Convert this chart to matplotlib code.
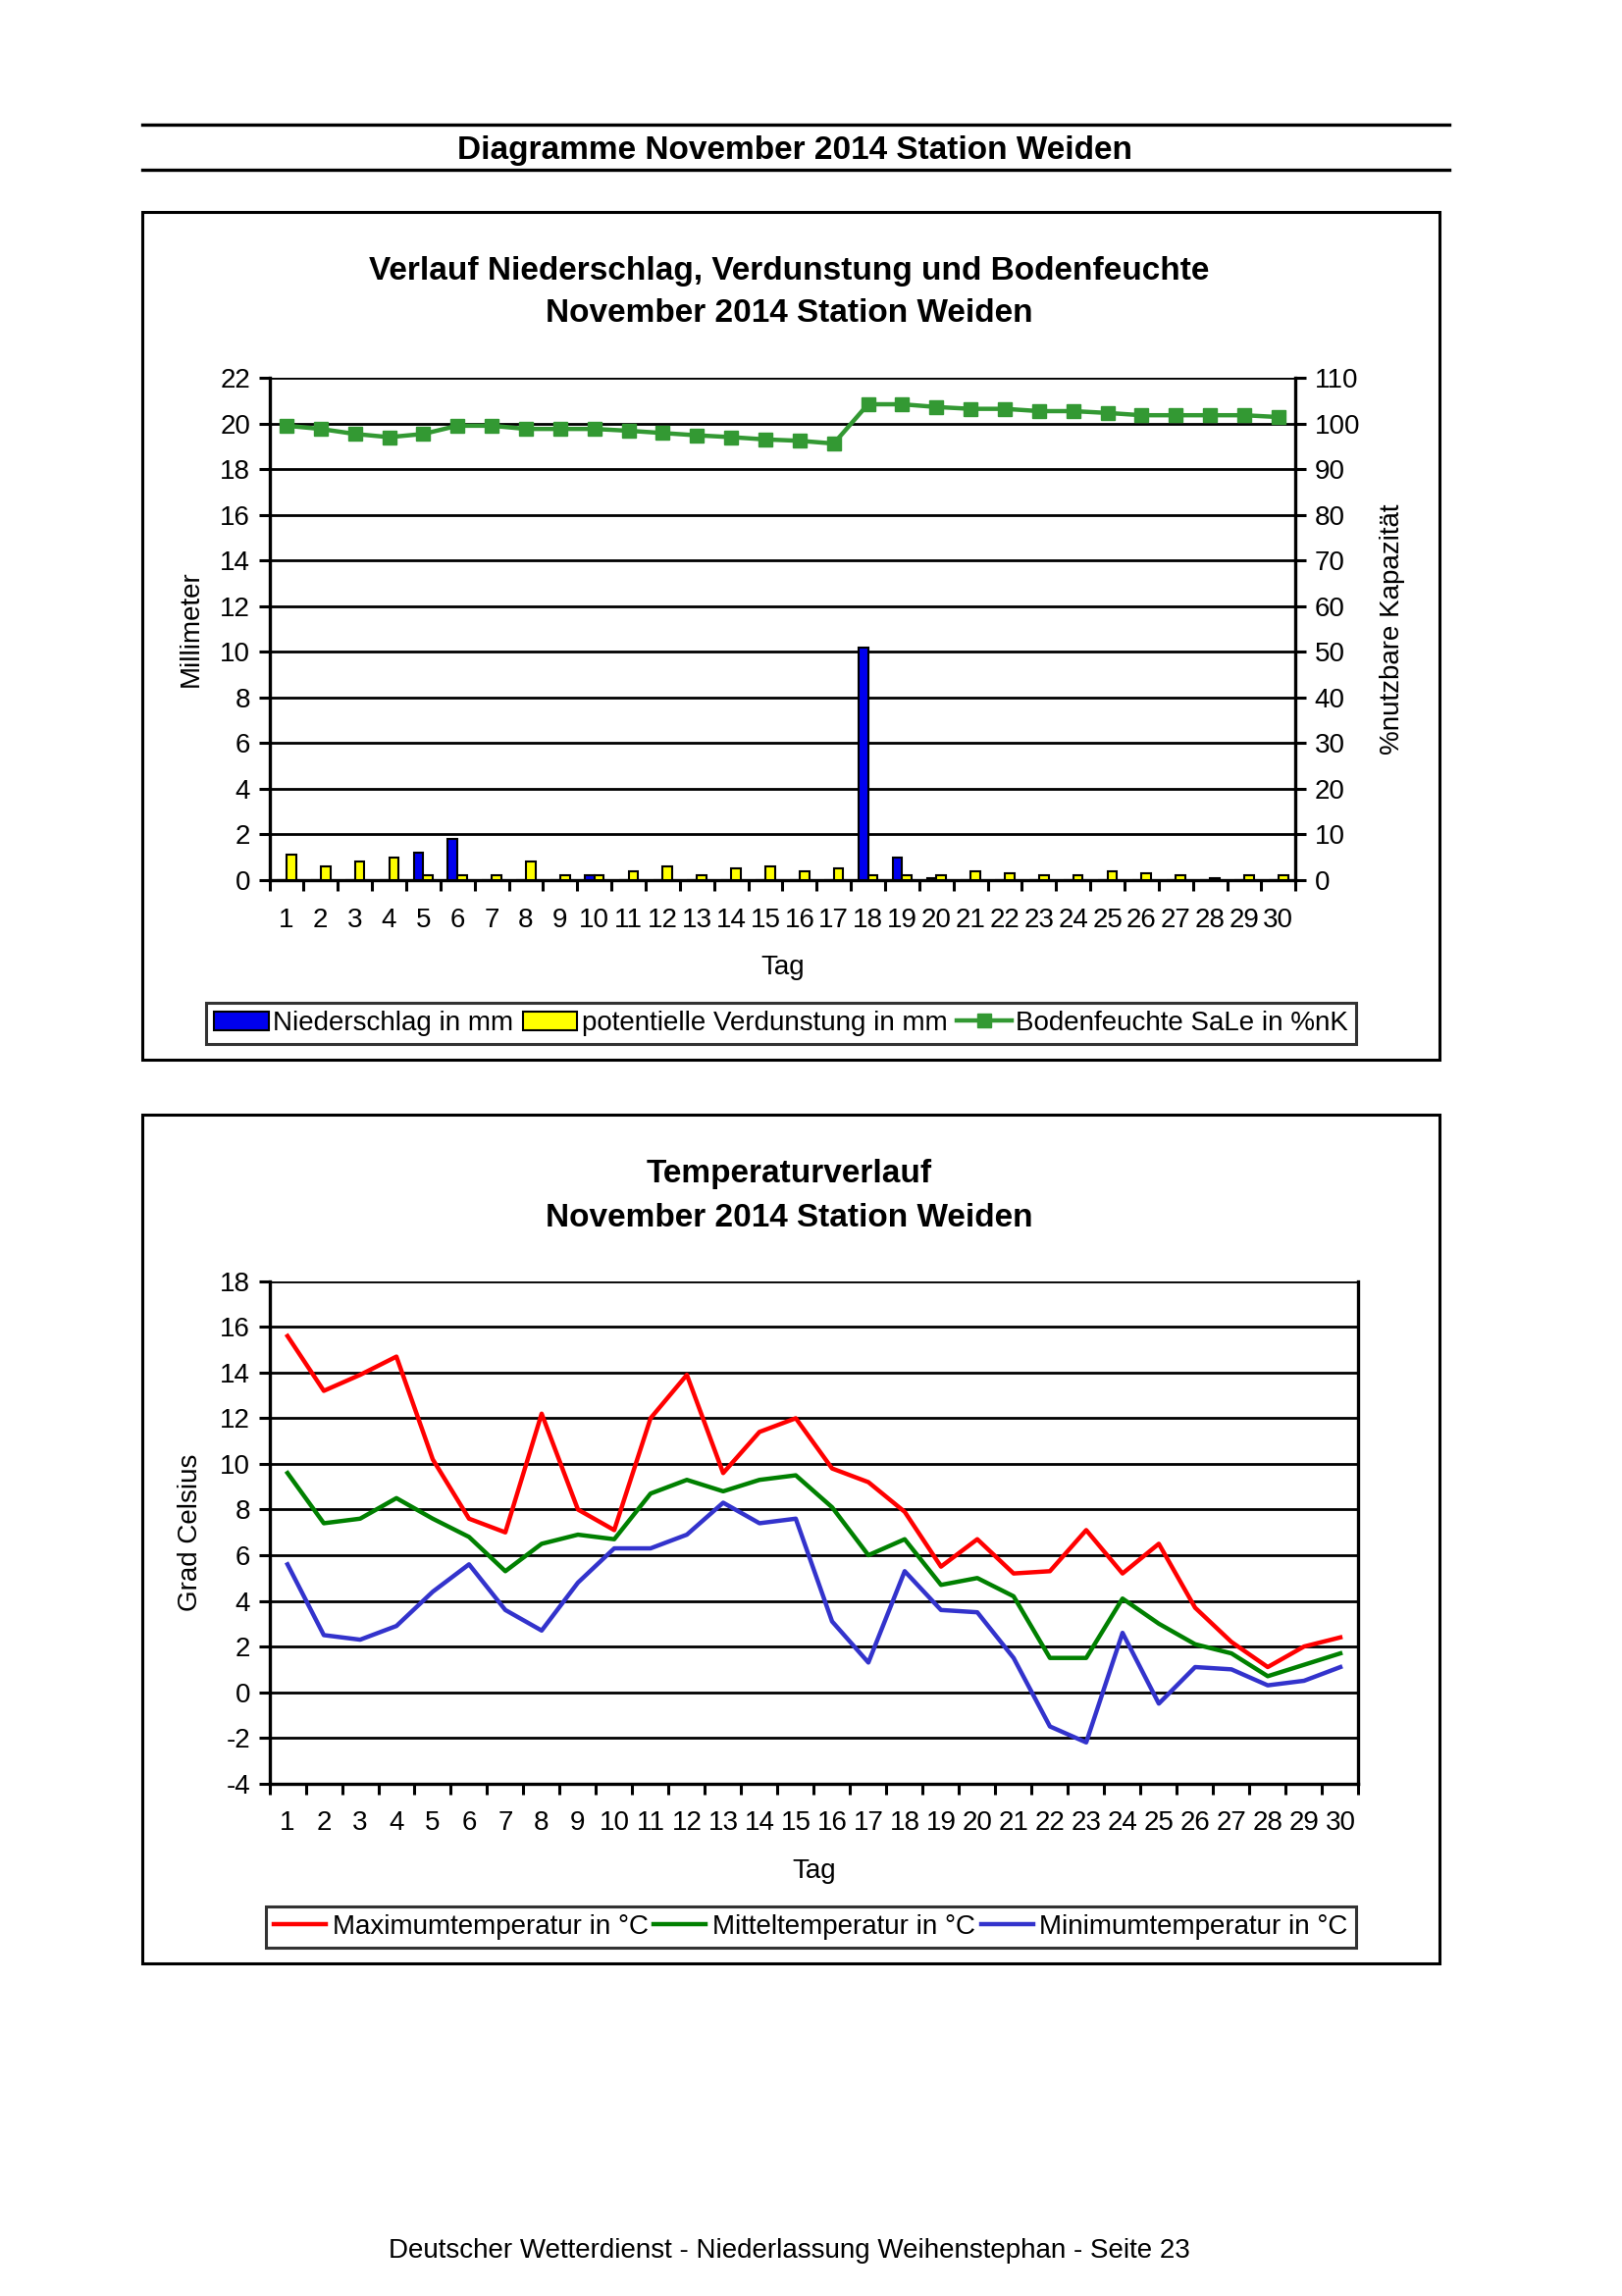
import matplotlib
matplotlib.use("Agg")
import matplotlib.pyplot as plt
import matplotlib.patches as mpatches
from matplotlib.lines import Line2D
import numpy as np

plt.rcParams['font.family'] = ['Liberation Sans', 'DejaVu Sans']

days = list(range(1, 31))
niederschlag = [0, 0, 0, 0, 1.2, 1.8, 0, 0, 0, 0.2, 0, 0, 0, 0, 0, 0, 0, 10.2, 1.0, 0.1,
                0, 0, 0, 0, 0, 0, 0, 0, 0, 0]
verdunstung = [1.1, 0.6, 0.8, 1.0, 0.2, 0.2, 0.2, 0.8, 0.2, 0.2, 0.4, 0.6, 0.2, 0.5, 0.6, 0.4, 0.5, 0.2, 0.2, 0.2,
               0.4, 0.3, 0.2, 0.2, 0.4, 0.3, 0.2, 0.1, 0.2, 0.2]
bodenfeuchte = [99.5, 98.8, 97.7, 97.0, 97.7, 99.5, 99.5, 98.8, 98.8, 98.8, 98.4, 97.9, 97.4, 97.0, 96.5, 96.2, 95.6,
                104.2, 104.2, 103.6, 103.2, 103.2, 102.7, 102.7, 102.3, 101.8, 101.8, 101.8, 101.8, 101.4]

tmax = [15.6, 13.2, 13.9, 14.7, 10.2, 7.6, 7.0, 12.2, 8.0, 7.1, 12.0, 13.9, 9.6, 11.4, 12.0, 9.8, 9.2, 7.9, 5.5, 6.7,
        5.2, 5.3, 7.1, 5.2, 6.5, 3.7, 2.2, 1.1, 2.0, 2.4]
tmit = [9.6, 7.4, 7.6, 8.5, 7.6, 6.8, 5.3, 6.5, 6.9, 6.7, 8.7, 9.3, 8.8, 9.3, 9.5, 8.1, 6.0, 6.7, 4.7, 5.0,
        4.2, 1.5, 1.5, 4.1, 3.0, 2.1, 1.7, 0.7, 1.2, 1.7]
tmin = [5.6, 2.5, 2.3, 2.9, 4.4, 5.6, 3.6, 2.7, 4.8, 6.3, 6.3, 6.9, 8.3, 7.4, 7.6, 3.1, 1.3, 5.3, 3.6, 3.5,
        1.5, -1.5, -2.2, 2.6, -0.5, 1.1, 1.0, 0.3, 0.5, 1.1]

W, H = 1108.0, 1568.0
def fx(x): return x / W
def fy(y): return 1 - y / H

fig = plt.figure(figsize=(16.53, 23.40), dpi=100)

title_fs = 24
tick_fs = 20

# Header
for yy in (85, 116):
    fig.add_artist(Line2D([fx(97), fx(990)], [fy(yy), fy(yy)], color='black', lw=2.4, transform=fig.transFigure))
fig.text(fx(543), fy(103), 'Diagramme November 2014 Station Weiden', ha='center', va='center',
         fontsize=title_fs, fontweight='bold')

# Boxes
for (x0, y0, x1, y1) in [(97, 145, 983, 724), (97, 761, 983, 1341)]:
    fig.add_artist(mpatches.Rectangle((fx(x0), fy(y1)), fx(x1) - fx(x0), fy(y0) - fy(y1), fill=False,
                                      edgecolor='black', lw=2.2, transform=fig.transFigure))

def style_x(ax):
    ax.set_xlim(0.5, 30.5)
    ax.set_xticks(days)
    ax.set_xticklabels([str(d) for d in days], fontsize=tick_fs)
    ax.set_xticks(np.arange(0.5, 31, 1), minor=True)
    ax.tick_params(axis='x', which='major', length=0, pad=20)
    ax.tick_params(axis='x', which='minor', length=8, width=2.2, direction='out')

# ---------- Chart 1 ----------
ax1 = fig.add_axes([fx(184), fy(601), fx(885) - fx(184), fy(258) - fy(601)])
x = np.array(days)
bw = 0.28
ax1.bar(x - bw / 2, niederschlag, width=bw, color='#0000EE', edgecolor='black', lw=1.5, zorder=3)
ax1.bar(x + bw / 2, verdunstung, width=bw, color='#FFFF00', edgecolor='black', lw=1.5, zorder=3)
ax1.set_ylim(0, 22)
ax1.set_yticks(range(0, 23, 2))
ax1.set_yticklabels([str(v) for v in range(0, 23, 2)], fontsize=tick_fs)
ax1.grid(axis='y', color='black', lw=2.0, zorder=0)
ax1.set_axisbelow(True)
style_x(ax1)
ax1.tick_params(axis='y', length=8, width=2.2, direction='out', pad=6)
for s in ['top', 'right']:
    ax1.spines[s].set_visible(False)
ax1.spines['left'].set_linewidth(2.4)
ax1.spines['bottom'].set_linewidth(2.4)
ax1.set_ylabel('Millimeter', fontsize=tick_fs, labelpad=12)
ax1.set_xlabel('Tag', fontsize=tick_fs, labelpad=16)

ax1b = ax1.twinx()
ax1b.plot(x, bodenfeuchte, color='#339933', lw=3.2, marker='s', markersize=10, zorder=5)
ax1b.set_ylim(0, 110)
ax1b.set_yticks(range(0, 111, 10))
ax1b.set_yticklabels([str(v) for v in range(0, 111, 10)], fontsize=tick_fs)
ax1b.tick_params(axis='y', length=8, width=2.2, direction='out', pad=6)
for s in ['top', 'left', 'bottom']:
    ax1b.spines[s].set_visible(False)
ax1b.spines['right'].set_linewidth(2.4)
ax1b.set_ylabel('%nutzbare Kapazität', fontsize=tick_fs, labelpad=14)

fig.text(fx(539), fy(185), 'Verlauf Niederschlag, Verdunstung und Bodenfeuchte', ha='center', va='center',
         fontsize=title_fs, fontweight='bold')
fig.text(fx(539), fy(214), 'November 2014 Station Weiden', ha='center', va='center',
         fontsize=title_fs, fontweight='bold')

h1 = [mpatches.Patch(facecolor='#0000EE', edgecolor='black', lw=1.5),
      mpatches.Patch(facecolor='#FFFF00', edgecolor='black', lw=1.5),
      Line2D([], [], color='#339933', lw=3.2, marker='s', markersize=10)]
l1 = ['Niederschlag in mm', 'potentielle Verdunstung in mm', 'Bodenfeuchte SaLe in %nK']
leg1 = fig.legend(h1, l1, loc='center', bbox_to_anchor=(fx(533.5), fy(699)), ncol=3, fontsize=tick_fs,
                  frameon=True, fancybox=False, edgecolor='black', handlelength=2.0, handletextpad=0.15,
                  columnspacing=0.35, borderpad=0.3, borderaxespad=0)
leg1.get_frame().set_linewidth(2.2)

# ---------- Chart 2 ----------
ax2 = fig.add_axes([fx(184), fy(1218), fx(928) - fx(184), fy(875) - fy(1218)])
ax2.plot(x, tmax, color='#FF0000', lw=3.2, zorder=4)
ax2.plot(x, tmit, color='#008000', lw=3.2, zorder=4)
ax2.plot(x, tmin, color='#3333CC', lw=3.2, zorder=4)
ax2.set_ylim(-4, 18)
ax2.set_yticks(range(-4, 19, 2))
ax2.set_yticklabels([str(v) for v in range(-4, 19, 2)], fontsize=tick_fs)
ax2.grid(axis='y', color='black', lw=2.0, zorder=0)
ax2.set_axisbelow(True)
style_x(ax2)
ax2.tick_params(axis='y', length=8, width=2.2, direction='out', pad=6)
ax2.spines['top'].set_visible(False)
for s in ['left', 'bottom', 'right']:
    ax2.spines[s].set_linewidth(2.4)
ax2.set_ylabel('Grad Celsius', fontsize=tick_fs, labelpad=12)
ax2.set_xlabel('Tag', fontsize=tick_fs, labelpad=16)

fig.text(fx(539), fy(802), 'Temperaturverlauf', ha='center', va='center', fontsize=title_fs, fontweight='bold')
fig.text(fx(539), fy(832), 'November 2014 Station Weiden', ha='center', va='center', fontsize=title_fs,
         fontweight='bold')

h2 = [Line2D([], [], color='#FF0000', lw=3.2), Line2D([], [], color='#008000', lw=3.2),
      Line2D([], [], color='#3333CC', lw=3.2)]
l2 = ['Maximumtemperatur in °C', 'Mitteltemperatur in °C', 'Minimumtemperatur in °C']
leg2 = fig.legend(h2, l2, loc='center', bbox_to_anchor=(fx(554), fy(1316)), ncol=3, fontsize=tick_fs,
                  frameon=True, fancybox=False, edgecolor='black', handlelength=1.9, handletextpad=0.25,
                  columnspacing=0.2, borderpad=0.3, borderaxespad=0)
leg2.get_frame().set_linewidth(2.2)

fig.text(fx(539), fy(1537), 'Deutscher Wetterdienst - Niederlassung Weihenstephan - Seite 23', ha='center',
         va='center', fontsize=20)

fig.savefig('out.png', dpi=100, facecolor='white')
